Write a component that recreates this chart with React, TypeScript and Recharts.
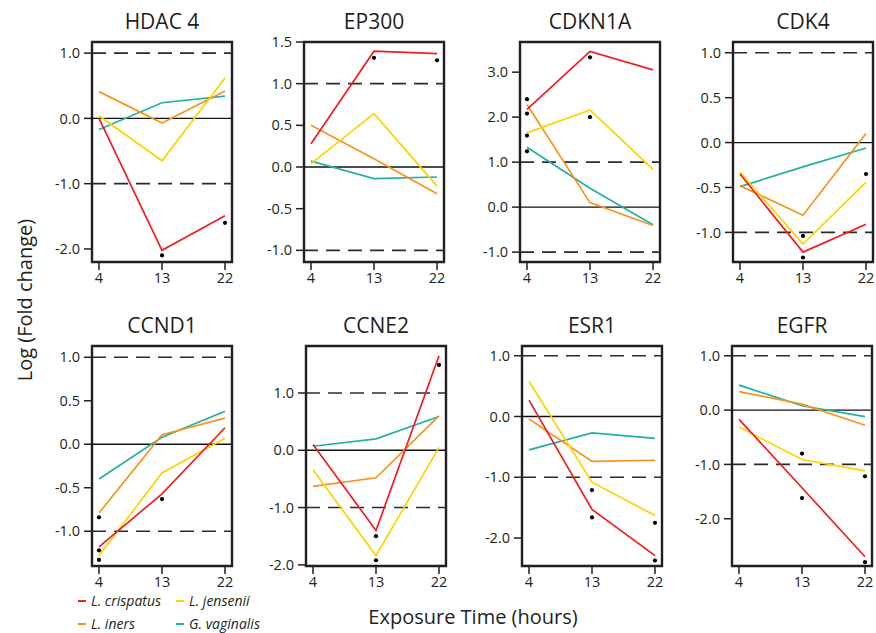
import React from 'react';
import { ComposedChart, Line, Scatter, XAxis, YAxis, ReferenceLine, ReferenceArea } from 'recharts';

const hours = [4, 13, 22];
const genes = ['HDAC 4', 'EP300', 'CDKN1A', 'CDK4', 'CCND1', 'CCNE2', 'ESR1', 'EGFR'];

// log fold change at 4, 13 and 22 h, one row per gene (same order as genes)
const crispatus = [
  [0.0, -2.02, -1.49],
  [0.28, 1.39, 1.36],
  [2.17, 3.46, 3.05],
  [-0.35, -1.22, -0.91],
  [-1.18, -0.57, 0.19],
  [0.1, -1.4, 1.65],
  [0.27, -1.53, -2.29],
  [-0.17, -1.43, -2.7],
];
const iners = [
  [0.41, -0.07, 0.42],
  [0.5, 0.1, -0.32],
  [2.28, 0.1, -0.41],
  [-0.48, -0.81, 0.1],
  [-0.79, 0.11, 0.3],
  [-0.63, -0.48, 0.6],
  [-0.04, -0.74, -0.72],
  [0.34, 0.11, -0.28],
];
const jensenii = [
  [0.04, -0.65, 0.62],
  [0.04, 0.64, -0.23],
  [1.65, 2.16, 0.84],
  [-0.33, -1.13, -0.44],
  [-1.28, -0.33, 0.07],
  [-0.34, -1.84, 0.05],
  [0.58, -1.08, -1.63],
  [-0.31, -0.91, -1.12],
];
const vaginalis = [
  [-0.17, 0.24, 0.34],
  [0.07, -0.14, -0.12],
  [1.33, 0.42, -0.39],
  [-0.49, -0.27, -0.06],
  [-0.4, 0.08, 0.38],
  [0.07, 0.2, 0.59],
  [-0.55, -0.27, -0.36],
  [0.46, 0.08, -0.12],
];

// significance dots: [hour, value]
const sigDots = [
  [[13, -2.1], [22, -1.6]],
  [[13, 1.31], [22, 1.28]],
  [[4, 2.4], [4, 2.08], [4, 1.59], [4, 1.24], [13, 3.33], [13, 2.0]],
  [[13, -1.04], [13, -1.28], [22, -0.35]],
  [[4, -0.84], [4, -1.22], [4, -1.33], [13, -0.63]],
  [[13, -1.5], [13, -1.92], [22, 1.49]],
  [[13, -1.21], [13, -1.66], [22, -1.75], [22, -2.37]],
  [[13, -0.8], [13, -1.62], [22, -1.22], [22, -2.8]],
];

const yTicks = [
  [-2, -1, 0, 1],
  [-1, -0.5, 0, 0.5, 1, 1.5],
  [-1, 0, 1, 2, 3],
  [-1, -0.5, 0, 0.5, 1],
  [-1, -0.5, 0, 0.5, 1],
  [-2, -1, 0, 1],
  [-2, -1, 0, 1],
  [-2, -1, 0, 1],
];
const yDomains = [
  [-2.2, 1.17],
  [-1.14, 1.5],
  [-1.22, 3.67],
  [-1.33, 1.12],
  [-1.4, 1.13],
  [-2.02, 1.82],
  [-2.46, 1.16],
  [-2.87, 1.18],
];
const xDomain = [3, 23];

const species = [
  { key: 'cr', name: 'L. crispatus', color: '#f01e23' },
  { key: 'in', name: 'L. iners', color: '#f7931e' },
  { key: 'je', name: 'L. jensenii', color: '#ffd200' },
  { key: 'gv', name: 'G. vaginalis', color: '#22b0a4' },
];

// plot box top-left corners
const boxes = [
  [92, 42], [304, 42], [520, 42], [733, 42],
  [92, 346], [306, 346], [522, 346], [732, 346],
];

const BOX_W = 140;
const BOX_H = 220;
const Y_AXIS_W = 50;
const TOP = 12;
const X_AXIS_H = 30;
const ink = '#231f20';
const font = '"Open Sans", sans-serif';

const Panel = ({ i }: { i: number }) => {
  const [left, top] = boxes[i];
  const rows = hours.map((h, j) => ({
    x: h,
    cr: crispatus[i][j],
    in: iners[i][j],
    je: jensenii[i][j],
    gv: vaginalis[i][j],
  }));
  const dots = sigDots[i].map(([x, y]) => ({ x, y }));
  const drawOrder = ['gv', 'in', 'je', 'cr'];

  return (
    <>
      <div
        style={{
          position: 'absolute',
          left: left + BOX_W / 2 - 100,
          top: top - 33,
          width: 200,
          textAlign: 'center',
          fontSize: 21,
          lineHeight: '24px',
          color: ink,
        }}
      >
        {genes[i]}
      </div>
      <div style={{ position: 'absolute', left: left - Y_AXIS_W, top: top - TOP }}>
        <ComposedChart
          width={Y_AXIS_W + BOX_W + 6}
          height={TOP + BOX_H + X_AXIS_H}
          data={rows}
          margin={{ top: TOP, right: 6, bottom: 0, left: 0 }}
        >
          <XAxis
            type="number"
            dataKey="x"
            domain={xDomain}
            ticks={hours}
            interval={0}
            allowDataOverflow
            height={X_AXIS_H}
            axisLine={false}
            tickSize={8}
            tickMargin={3}
            tickLine={{ stroke: ink, strokeWidth: 1.5 }}
            tick={{ fontSize: 14.5, fill: ink, fontFamily: font }}
          />
          <YAxis
            type="number"
            domain={yDomains[i]}
            ticks={yTicks[i]}
            interval={0}
            allowDataOverflow
            width={Y_AXIS_W}
            axisLine={false}
            tickSize={8}
            tickMargin={4}
            tickLine={{ stroke: ink, strokeWidth: 1.5 }}
            tick={{ fontSize: 14.5, fill: ink, fontFamily: font }}
            tickFormatter={(v: number) => v.toFixed(1)}
          />
          <ReferenceLine y={1} stroke="#2b2b2b" strokeWidth={1.6} strokeDasharray="14 8" />
          <ReferenceLine y={-1} stroke="#2b2b2b" strokeWidth={1.6} strokeDasharray="14 8" />
          <ReferenceLine y={0} stroke="#111" strokeWidth={1.3} />
          {drawOrder.map((k) => {
            const s = species.find((sp) => sp.key === k)!;
            return (
              <Line
                key={k}
                type="linear"
                dataKey={k}
                stroke={s.color}
                strokeWidth={1.7}
                dot={false}
                activeDot={false}
                isAnimationActive={false}
              />
            );
          })}
          <Scatter
            data={dots}
            dataKey="y"
            isAnimationActive={false}
            shape={(p: any) => <circle cx={p.cx} cy={p.cy} r={2.1} fill="#000" />}
          />
          <ReferenceArea
            x1={xDomain[0]}
            x2={xDomain[1]}
            y1={yDomains[i][0]}
            y2={yDomains[i][1]}
            fill="none"
            fillOpacity={0}
            stroke={ink}
            strokeWidth={2.4}
            ifOverflow="visible"
          />
        </ComposedChart>
      </div>
    </>
  );
};

const App = () => {
  return (
    <div
      style={{
        position: 'absolute',
        left: 0,
        top: 0,
        width: 876,
        height: 633,
        overflow: 'hidden',
        background: '#fff',
        fontFamily: font,
        color: ink,
      }}
    >
      {genes.map((g, i) => (
        <Panel key={g} i={i} />
      ))}

      <div
        style={{
          position: 'absolute',
          left: 25 - 120,
          top: 300 - 14,
          width: 240,
          textAlign: 'center',
          fontSize: 20,
          lineHeight: '28px',
          transform: 'rotate(-90deg)',
        }}
      >
        Log (Fold change)
      </div>

      <div
        style={{
          position: 'absolute',
          left: 473 - 150,
          top: 617 - 14,
          width: 300,
          textAlign: 'center',
          fontSize: 20,
          lineHeight: '28px',
        }}
      >
        Exposure Time (hours)
      </div>

      {species.map((s, k) => {
        const col = k === 0 || k === 1 ? 0 : 1;
        const row = k === 0 || k === 2 ? 0 : 1;
        const x = col === 0 ? 78 : 176;
        const y = row === 0 ? 601 : 624;
        return (
          <div
            key={s.key}
            style={{ position: 'absolute', left: x, top: y - 10, height: 20, display: 'flex', alignItems: 'center' }}
          >
            <span style={{ width: 8, height: 2.5, background: s.color, marginRight: 5, display: 'inline-block' }} />
            <span style={{ fontStyle: 'italic', fontSize: 14, lineHeight: '20px' }}>{s.name}</span>
          </div>
        );
      })}
    </div>
  );
};

export default App;
